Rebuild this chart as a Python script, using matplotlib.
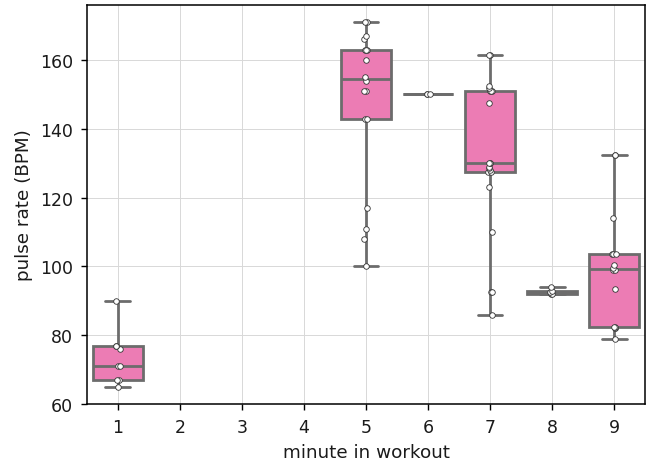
import numpy as np
import pandas as pd
import matplotlib
matplotlib.use("Agg")
import matplotlib.pyplot as plt
import seaborn as sns

minutes = ["1", "2", "3", "4", "5", "6", "7", "8", "9"]

pulse_m1 = [65, 67, 67, 71, 71, 76, 77, 77, 90]
pulse_m5 = [100, 108, 111, 117, 143, 143, 151, 151, 154, 155,
            160, 163, 163, 163, 166, 167, 171, 171]
pulse_m6 = [150, 150, 150]
pulse_m7 = [86, 92.5, 92.5, 110, 123, 127.5, 127.5, 128, 128.5, 129, 130,
            130, 130, 147.5, 151, 151, 151, 152, 152.5, 161.5, 161.5]
pulse_m8 = [92, 92, 92.5, 93, 94]
pulse_m9 = [79, 82, 82, 82.5, 82.5, 93.5, 99, 99, 99.5, 100.5, 103.5,
            103.5, 103.5, 114, 132.5, 132.5]

groups = {"1": pulse_m1, "5": pulse_m5, "6": pulse_m6,
          "7": pulse_m7, "8": pulse_m8, "9": pulse_m9}
rows = [(m, v) for m, vals in groups.items() for v in vals]
df = pd.DataFrame(rows, columns=["minute", "pulse"])

sns.set_style("ticks")
plt.rcParams["font.family"] = ["DejaVu Sans"]
plt.rcParams["text.color"] = "#1a1a1a"
plt.rcParams["axes.labelcolor"] = "#1a1a1a"
plt.rcParams["xtick.color"] = "#1a1a1a"
plt.rcParams["ytick.color"] = "#1a1a1a"

fig, ax = plt.subplots(figsize=(6.53, 4.64), dpi=100)
fig.subplots_adjust(left=0.133, right=0.988, top=0.987, bottom=0.127)

sns.boxplot(data=df, x="minute", y="pulse", order=minutes, color="hotpink",
            whis=np.inf, showfliers=False, linewidth=2, ax=ax)
np.random.seed(3)
sns.stripplot(data=df, x="minute", y="pulse", order=minutes, color="white",
              edgecolor="#333333", linewidth=0.6, size=4, jitter=0.04, ax=ax)

ax.set_ylim(60, 176)
ax.set_yticks([60, 80, 100, 120, 140, 160])
ax.grid(True, color="#d8d8d8", linewidth=0.7)
ax.set_axisbelow(True)
for s in ax.spines.values():
    s.set_visible(True)
    s.set_color("black")
    s.set_linewidth(1.1)
ax.tick_params(labelsize=12.5, length=4.5, width=1.0, color="black", pad=5.5)
ax.set_xlabel("minute in workout", fontsize=13.2, labelpad=5)
ax.set_ylabel("pulse rate (BPM)", fontsize=13.2, labelpad=5)

plt.savefig("out.png")
